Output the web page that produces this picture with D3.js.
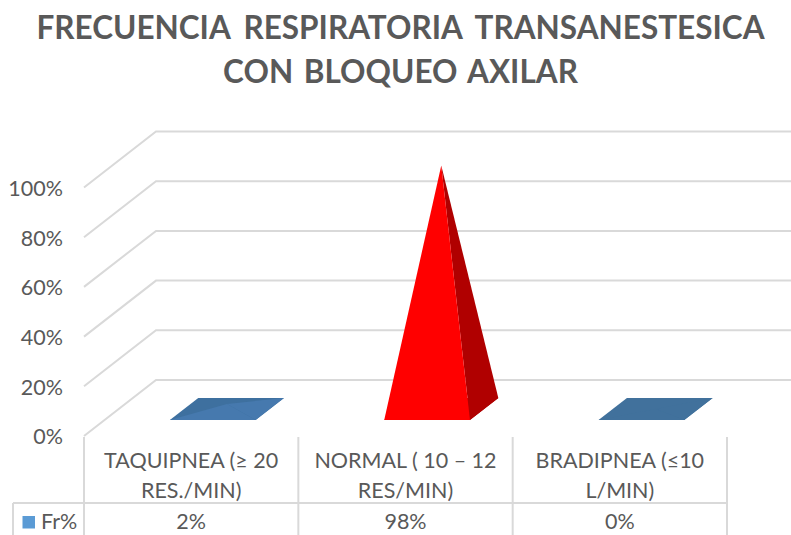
<!DOCTYPE html>
<html>
<head>
<meta charset="utf-8">
<script src="https://cdn.jsdelivr.net/npm/d3@7"></script>
<style>
    html, body { margin: 0; padding: 0; background: #fff; overflow: hidden; }
    svg { display: block; font-family: Lato, sans-serif; }
    text { fill: #595959; }
</style>
</head>
<body>
<script>
const titleLines = ['FRECUENCIA RESPIRATORIA TRANSANESTESICA', 'CON BLOQUEO AXILAR'];
const categories = ['TAQUIPNEA', 'NORMAL', 'BRADIPNEA'];
const categoryLines = [
    ['TAQUIPNEA (≥ 20', 'RES./MIN)'],
    ['NORMAL ( 10 – 12', 'RES/MIN)'],
    ['BRADIPNEA (≤10', 'L/MIN)']
];
const values = [0.02, 0.98, 0];
const valueLabels = ['2%', '98%', '0%'];
const frontColors = ['#4679ae', '#ff0000', '#41719c'];
const rightColors = ['#4679ae', '#b00000', '#41719c'];
const baseColors = ['#3e709f', '#b00000', '#41719c'];
const yTicks = [0, 0.2, 0.4, 0.6, 0.8, 1];
const seriesName = 'Fr%';

const width = 791;
const height = 535;
const depthX = 72;
const depthY = -56;
const tableTop = 503;
const gridColor = '#d9d9d9';

const svg = d3.select('body').append('svg')
    .attr('width', width)
    .attr('height', height);

const x = d3.scaleBand().domain(categories).range([84, 727]);
const y = d3.scaleLinear().domain([0, 1]).range([436, 187.5]);

// x offset in the band, value and depth (0 = front wall, 1 = back wall) to screen
const project = (category, offset, value, depth) => [
    x(category) + x.bandwidth() / 2 + offset + depthX * depth + 1,
    y(value) + depthY * depth
];

// Title
svg.append('g').selectAll('text')
    .data(titleLines)
    .join('text')
    .attr('x', 400.5)
    .attr('y', (d, i) => 39 + i * 44)
    .attr('text-anchor', 'middle')
    .attr('font-size', 31.5)
    .attr('font-weight', 700)
    .attr('word-spacing', (d, i) => i ? 3 : 6)
    .text(d => d);

// Gridlines: side wall then back wall
const gridLine = d3.line();
svg.append('g').selectAll('path')
    .data(yTicks)
    .join('path')
    .attr('fill', 'none')
    .attr('stroke', gridColor)
    .attr('stroke-width', 2)
    .attr('d', d => gridLine([
        [x.range()[0], y(d)],
        [x.range()[0] + depthX, y(d) + depthY],
        [x.range()[1] + depthX, y(d) + depthY]
    ]));

// Value axis
const yAxis = svg.append('g')
    .attr('transform', 'translate(63,1)')
    .call(d3.axisLeft(y).tickValues(yTicks).tickFormat(d3.format('.0%')).tickSize(0).tickPadding(0));
yAxis.select('.domain').remove();
yAxis.selectAll('text')
    .attr('font-family', 'Lato, sans-serif')
    .attr('font-size', 21.5)
    .style('fill', '#595959');

// Pyramids, only the faces that can be seen
const halfWidth = x.bandwidth() * 0.2;
const depthFront = 0.286;
const depthBack = 0.68;
const depthMid = (depthFront + depthBack) / 2;
const facePath = d3.line();

const bars = svg.append('g').selectAll('g')
    .data(categories)
    .join('g');

bars.each(function (category, i) {
    const bar = d3.select(this);
    const frontLeft = project(category, -halfWidth, 0, depthFront);
    const frontRight = project(category, halfWidth, 0, depthFront);
    const backLeft = project(category, -halfWidth, 0, depthBack);
    const backRight = project(category, halfWidth, 0, depthBack);
    const apex = project(category, 0, values[i], depthMid);
    bar.append('path')
        .attr('d', facePath([frontLeft, backLeft, backRight, frontRight]) + 'Z')
        .attr('fill', baseColors[i]);
    bar.append('path')
        .attr('d', facePath([frontRight, backRight, apex]) + 'Z')
        .attr('fill', rightColors[i]);
    bar.append('path')
        .attr('d', facePath([frontLeft, frontRight, apex]) + 'Z')
        .attr('fill', frontColors[i]);
});

// Data table
const table = svg.append('g')
    .attr('stroke', gridColor)
    .attr('stroke-width', 2);
table.append('line')
    .attr('x1', 13).attr('x2', x.range()[1])
    .attr('y1', tableTop).attr('y2', tableTop);
table.append('line')
    .attr('x1', 13).attr('x2', 13)
    .attr('y1', tableTop).attr('y2', height);
table.selectAll('.col')
    .data([...categories.map(c => x(c)), x.range()[1]])
    .join('line')
    .attr('class', 'col')
    .attr('x1', d => d).attr('x2', d => d)
    .attr('y1', 437).attr('y2', height);

const centerOf = category => x(category) + x.bandwidth() / 2;

svg.append('g').selectAll('text')
    .data(categories.flatMap((c, i) => categoryLines[i].map((line, row) => ({ c, line, row }))))
    .join('text')
    .attr('x', d => centerOf(d.c))
    .attr('y', d => 468 + d.row * 30)
    .attr('text-anchor', 'middle')
    .attr('font-size', 21.5)
    .text(d => d.line);

svg.append('g').selectAll('text')
    .data(categories)
    .join('text')
    .attr('x', centerOf)
    .attr('y', 529)
    .attr('text-anchor', 'middle')
    .attr('font-size', 21.5)
    .text((d, i) => valueLabels[i]);

// Legend key in the table
svg.append('rect')
    .attr('x', 22.5).attr('y', 516)
    .attr('width', 12.5).attr('height', 12.5)
    .attr('fill', '#5b9bd5');
svg.append('text')
    .attr('x', 41)
    .attr('y', 529)
    .attr('font-size', 21.5)
    .text(seriesName);
</script>
</body>
</html>
